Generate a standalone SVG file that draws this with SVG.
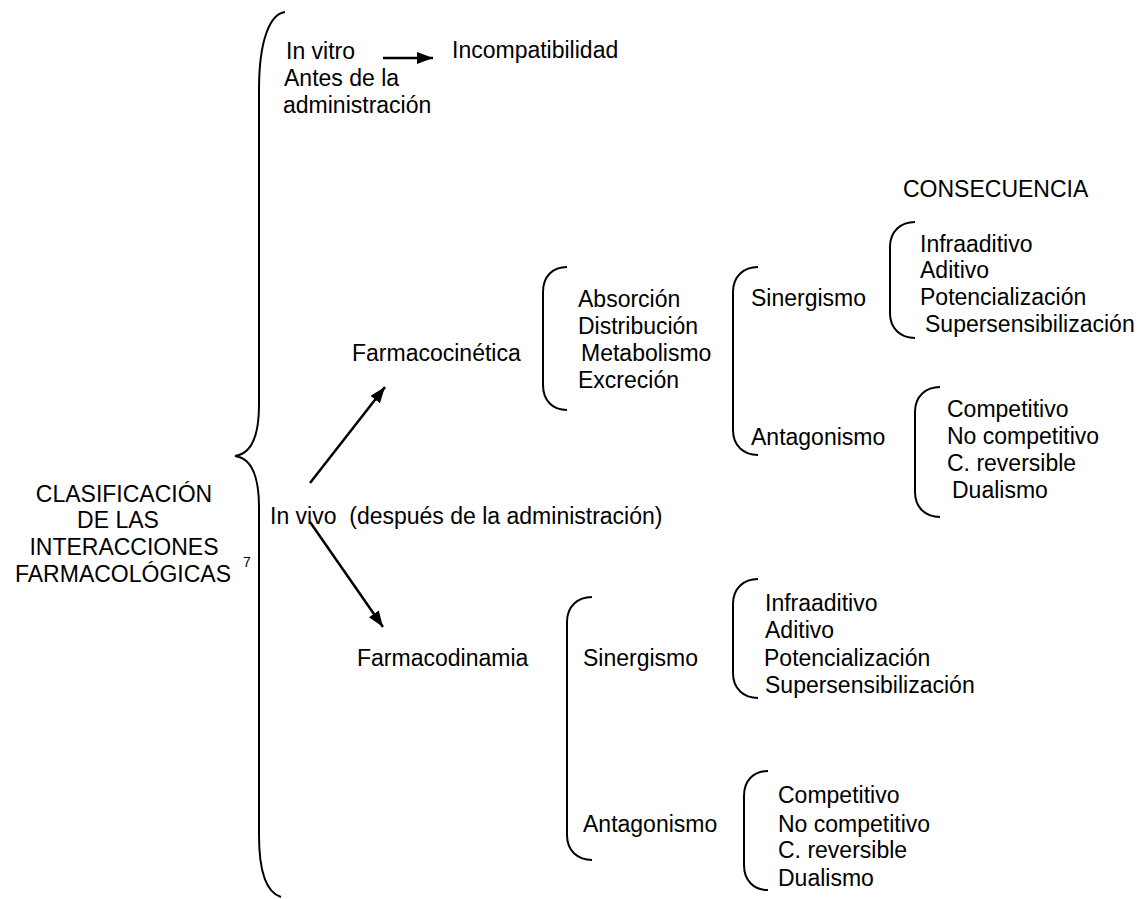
<svg xmlns="http://www.w3.org/2000/svg" width="1145" height="899" viewBox="0 0 1145 899">
<style>
.t{font-family:"Liberation Sans",Arial,sans-serif;font-size:23px;fill:#000;white-space:pre}
.m{text-anchor:middle}
.br{fill:none;stroke:#000;stroke-width:2}
.ar{fill:none;stroke:#000;stroke-width:2.5}
</style>
<defs>
<marker id="ah" markerUnits="userSpaceOnUse" markerWidth="16" markerHeight="12" refX="16" refY="6" orient="auto">
<path d="M0,0 L16,6 L0,12 z" fill="#000"/>
</marker>
</defs>
<rect width="1145" height="899" fill="#fff"/>

<g id="title">
<text class="t m" x="124" y="502">CLASIFICACIÓN</text>
<text class="t m" x="118" y="528">DE LAS</text>
<text class="t m" x="124" y="555">INTERACCIONES</text>
<text class="t m" x="123" y="582">FARMACOLÓGICAS</text>
<text class="t" x="243" y="567" style="font-size:14px">7</text>
<path class="br" d="M285,12 C270,14 259,40 259,90 L259,405 C259,440 250,454 235,456 C250,458 259,472 259,507 L259,835 C259,875 268,893 281,897"/>
</g>

<g id="invitro">
<text class="t" x="286" y="59">In vitro</text>
<text class="t" x="284" y="86">Antes de la</text>
<text class="t" x="283" y="113">administración</text>
</g>

<g id="incompatibilidad">
<text class="t" x="452" y="58">Incompatibilidad</text>
</g>

<g id="invivo">
<text class="t" x="270" y="524">In vivo  (después de la administración)</text>
</g>

<g id="farmacocinetica">
<text class="t" x="352" y="361">Farmacocinética</text>
</g>

<g id="fc-procesos">
<path class="br" d="M567,267 C553,267 543,276 543,292 L543,385 C543,401 553,410 567,410"/>
<text class="t" x="578" y="307">Absorción</text>
<text class="t" x="578" y="334">Distribución</text>
<text class="t" x="581" y="361">Metabolismo</text>
<text class="t" x="578" y="388">Excreción</text>
</g>

<g id="fc-efectos">
<path class="br" d="M758,267 C744,267 733,276 733,292 L733,430 C733,446 744,455 758,455"/>
<text class="t" x="751" y="306">Sinergismo</text>
<text class="t" x="751" y="445">Antagonismo</text>
</g>

<g id="consecuencia">
<text class="t" x="903" y="197">CONSECUENCIA</text>
</g>

<g id="fc-sinergismo">
<path class="br" d="M915,222 C901,222 890,231 890,247 L890,313 C890,329 901,338 915,338"/>
<text class="t" x="920" y="252">Infraaditivo</text>
<text class="t" x="920" y="278">Aditivo</text>
<text class="t" x="920" y="305">Potencialización</text>
<text class="t" x="925" y="332">Supersensibilización</text>
</g>

<g id="fc-antagonismo">
<path class="br" d="M940,387 C926,387 915,396 915,412 L915,492 C915,508 926,517 940,517"/>
<text class="t" x="947" y="417">Competitivo</text>
<text class="t" x="947" y="444">No competitivo</text>
<text class="t" x="947" y="471">C. reversible</text>
<text class="t" x="952" y="498">Dualismo</text>
</g>

<g id="farmacodinamia">
<text class="t" x="357" y="666">Farmacodinamia</text>
</g>

<g id="fd-efectos">
<path class="br" d="M592,597 C578,597 567,606 567,622 L567,835 C567,851 578,860 592,860"/>
<text class="t" x="583" y="666">Sinergismo</text>
<text class="t" x="583" y="832">Antagonismo</text>
</g>

<g id="fd-sinergismo">
<path class="br" d="M758,579 C744,579 733,588 733,604 L733,673 C733,689 744,698 758,698"/>
<text class="t" x="765" y="611">Infraaditivo</text>
<text class="t" x="765" y="638">Aditivo</text>
<text class="t" x="764" y="666">Potencialización</text>
<text class="t" x="765" y="693">Supersensibilización</text>
</g>

<g id="fd-antagonismo">
<path class="br" d="M768,771 C754,771 744,780 744,796 L744,865 C744,881 754,890 768,890"/>
<text class="t" x="778" y="803">Competitivo</text>
<text class="t" x="778" y="832">No competitivo</text>
<text class="t" x="778" y="858">C. reversible</text>
<text class="t" x="778" y="886">Dualismo</text>
</g>

<g id="connectors">
<line class="ar" x1="383" y1="58" x2="433" y2="58" marker-end="url(#ah)"/>
<line class="ar" x1="310" y1="483" x2="385" y2="387" marker-end="url(#ah)"/>
<line class="ar" x1="310" y1="522" x2="383" y2="627" marker-end="url(#ah)"/>
</g>
</svg>
